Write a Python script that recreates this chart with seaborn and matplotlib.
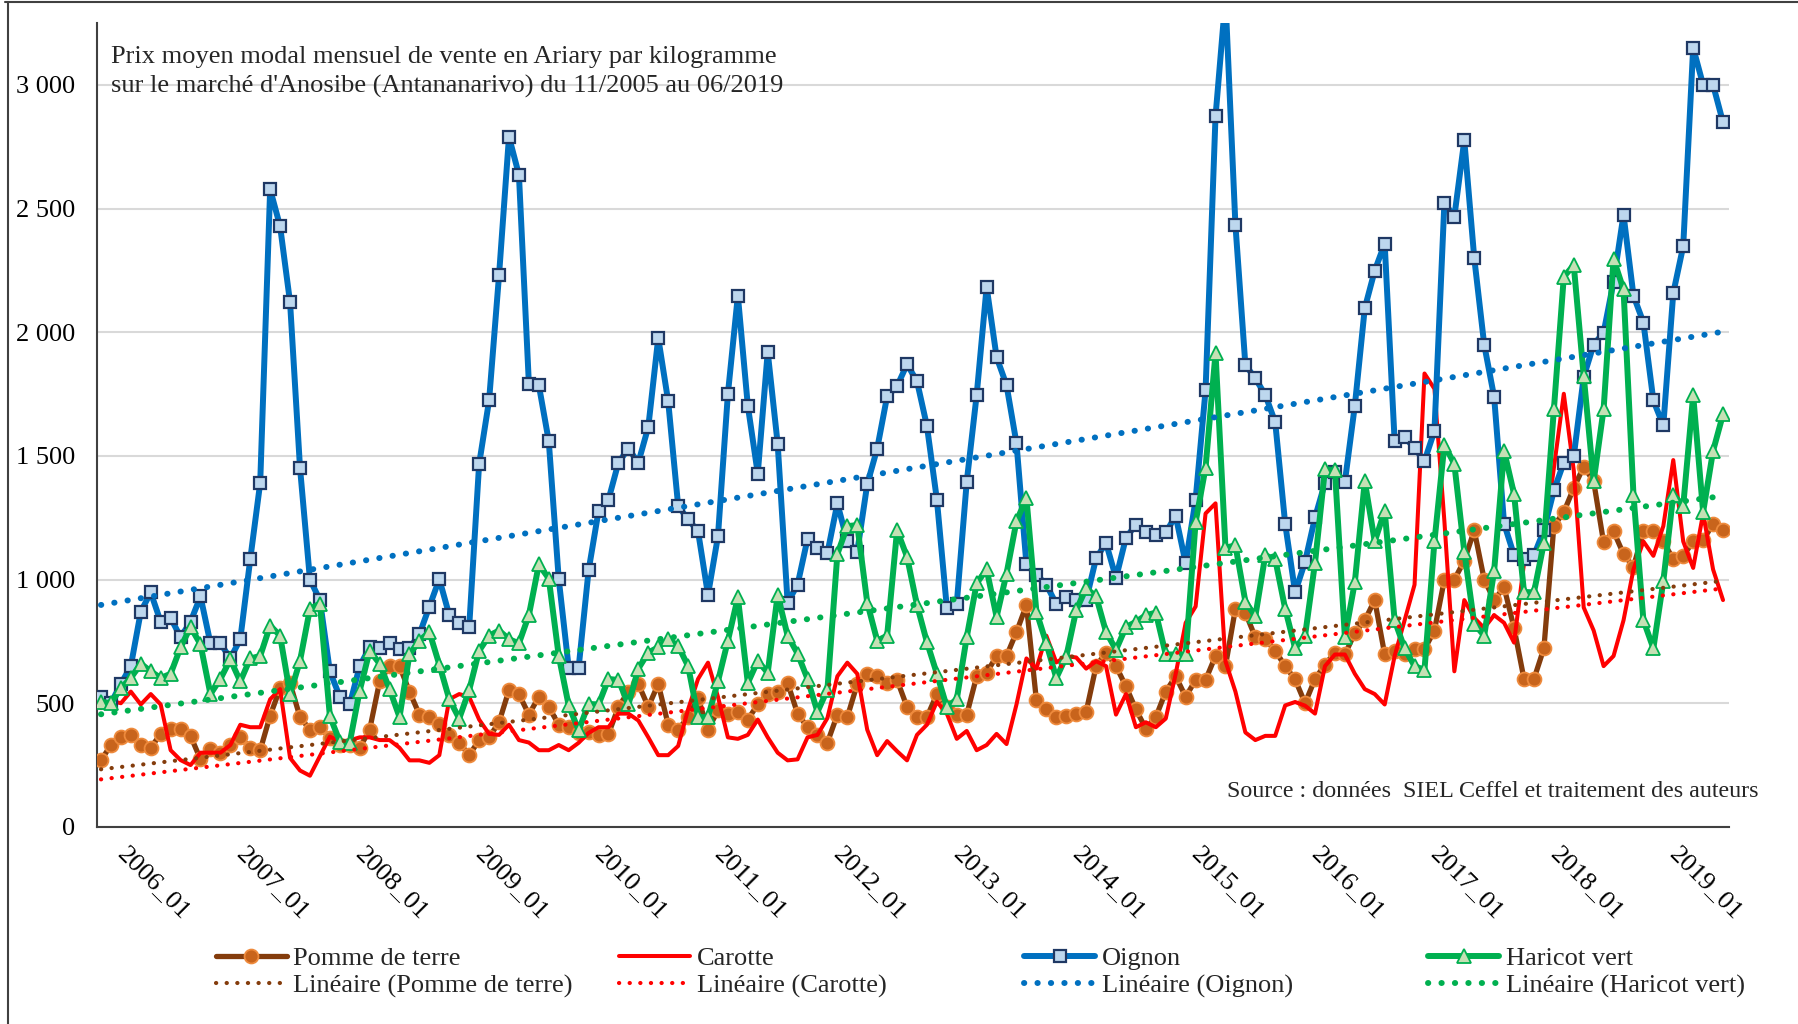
import numpy as np
import pandas as pd
import matplotlib
matplotlib.use("Agg")
import matplotlib.pyplot as plt
from matplotlib.lines import Line2D
import seaborn as sns

# Monthly periods 11/2005 .. 06/2019
months = pd.period_range("2005-11", "2019-06", freq="M")
month_labels = [f"{p.year}_{p.month:02d}" for p in months]
tick_labels = [f"{y}_01" for y in range(2006, 2020)]

# Prix moyen modal mensuel (Ariary / kg)
pomme_de_terre = [
    269, 331, 362, 372, 331, 320, 376, 397, 397, 368, 273, 314, 300, 331, 362, 320, 310, 450, 560, 580, 444, 393, 403, 360, 330, 330,
    320, 393, 588, 650, 650, 547, 454, 444, 417, 372, 341, 290, 351, 362, 423, 553, 537, 454, 526, 485, 413, 403, 380, 382,
    372, 376, 485, 547, 578, 485, 578, 413, 393, 444, 521, 393, 471, 458, 465, 434, 495, 537, 547, 582, 458, 403, 372, 341,
    454, 444, 578, 619, 609, 582, 594, 485, 444, 444, 537, 485, 454, 454, 609, 623, 691, 691, 788, 897, 512, 475, 444, 447,
    458, 465, 650, 705, 650, 568, 475, 397, 444, 547, 609, 526, 594, 594, 691, 650, 882, 866, 767, 759, 712, 650, 596, 500,
    598, 656, 705, 697, 784, 835, 917, 697, 712, 697, 718, 718, 794, 1000, 1000, 1076, 1199, 1000, 917, 969, 804, 598, 598, 722,
    1216, 1273, 1370, 1457, 1397, 1150, 1195, 1103, 1051, 1195, 1195, 1154, 1082, 1096, 1154, 1158, 1226, 1199,
]
carotte = [
    480, 510, 500, 547, 495, 537, 495, 310, 270, 250, 300, 300, 300, 331, 413, 403, 403, 516, 557, 279, 228, 207, 286, 365, 345, 350,
    362, 362, 351, 351, 320, 269, 269, 259, 290, 516, 537, 526, 434, 376, 372, 413, 351, 341, 310, 310, 331, 310, 340, 380,
    403, 403, 458, 458, 430, 362, 290, 290, 327, 475, 598, 664, 526, 362, 356, 372, 434, 362, 300, 269, 273, 362, 372, 440,
    609, 664, 619, 393, 290, 347, 306, 269, 372, 413, 506, 458, 356, 388, 310, 331, 376, 335, 495, 681, 640, 773, 665, 690,
    685, 640, 670, 650, 454, 537, 403, 423, 403, 438, 619, 825, 891, 1267, 1308, 670, 547, 382, 351, 368, 368, 491, 505, 490,
    458, 650, 697, 697, 619, 557, 537, 495, 691, 835, 979, 1833, 1771, 1236, 629, 917, 845, 804, 856, 825, 745, 1065, 1090, 1150,
    1450, 1751, 1442, 887, 794, 650, 691, 835, 1041, 1154, 1096, 1216, 1483, 1154, 1047, 1267, 1041, 917,
]
oignon = [
    526, 500, 578, 650, 870, 948, 829, 845, 767, 829, 932, 742, 742, 681, 759, 1082, 1391, 2578, 2428, 2121, 1452, 1000, 917, 629, 526, 495,
    650, 726, 722, 742, 718, 722, 779, 891, 1002, 856, 825, 808, 1467, 1724, 2230, 2790, 2636, 1792, 1786, 1559, 1002, 644, 644, 1037,
    1277, 1323, 1473, 1529, 1473, 1617, 1977, 1720, 1298, 1243, 1195, 938, 1175, 1751, 2148, 1703, 1428, 1920, 1549, 907, 979, 1164, 1127, 1107,
    1308, 1154, 1113, 1385, 1529, 1741, 1782, 1870, 1802, 1621, 1323, 886, 903, 1395, 1747, 2183, 1899, 1786, 1551, 1061, 1020, 979, 901, 928,
    917, 917, 1086, 1148, 1006, 1169, 1222, 1191, 1179, 1191, 1257, 1066, 1323, 1765, 2872, 3350, 2434, 1868, 1813, 1747, 1636, 1226, 948, 1072,
    1251, 1391, 1436, 1395, 1703, 2097, 2249, 2358, 1559, 1576, 1531, 1479, 1601, 2523, 2467, 2776, 2300, 1950, 1738, 1226, 1098, 1082, 1098, 1199,
    1360, 1473, 1498, 1819, 1950, 1998, 2204, 2475, 2148, 2039, 1724, 1623, 2158, 2348, 3150, 3000, 3000, 2848,
]
haricot_vert = [
    506, 500, 561, 602, 660, 629, 602, 619, 726, 808, 738, 537, 598, 677, 588, 681, 691, 814, 773, 537, 671, 882, 903, 448, 345, 341,
    551, 712, 660, 557, 444, 697, 753, 788, 656, 516, 438, 553, 712, 773, 794, 759, 742, 856, 1061, 1004, 691, 491, 390, 497,
    495, 598, 594, 495, 640, 705, 726, 759, 732, 650, 444, 444, 588, 753, 928, 582, 671, 623, 938, 773, 701, 598, 465, 555,
    1103, 1216, 1220, 907, 753, 773, 1199, 1092, 897, 747, 619, 485, 516, 767, 985, 1041, 849, 1024, 1236, 1329, 870, 742, 602, 688,
    876, 965, 932, 788, 716, 808, 829, 856, 866, 697, 697, 697, 1232, 1452, 1915, 1129, 1138, 911, 851, 1098, 1082, 882, 722, 773,
    1068, 1446, 1442, 767, 989, 1397, 1154, 1277, 835, 722, 650, 635, 1154, 1545, 1467, 1113, 821, 773, 1035, 1520, 1346, 950, 948, 1148,
    1689, 2224, 2271, 1823, 1397, 1689, 2296, 2173, 1343, 835, 722, 993, 1343, 1298, 1745, 1273, 1520, 1668,
]

series_names = ["Pomme de terre", "Carotte", "Oignon", "Haricot vert"]
y_ticks = [0, 500, 1000, 1500, 2000, 2500, 3000]
y_tick_labels = ["0", "500", "1 000", "1 500", "2 000", "2 500", "3 000"]

title_lines = [
    "Prix moyen modal mensuel de vente en Ariary par kilogramme",
    "sur le marché d'Anosibe (Antananarivo) du 11/2005 au 06/2019",
]
source_text = "Source : données  SIEL Ceffel et traitement des auteurs"

df = pd.DataFrame({
    "mois": month_labels,
    "t": np.arange(len(months)),
    "Pomme de terre": pomme_de_terre,
    "Carotte": carotte,
    "Oignon": oignon,
    "Haricot vert": haricot_vert,
})

styles = {
    "Pomme de terre": dict(color="#843C0C", lw=3.8, marker="o", ms=10,
                           mfc="#C8641C", mec="#EE8A3C", mew=1.3),
    "Carotte": dict(color="#FF0000", lw=2.9, marker=None),
    "Oignon": dict(color="#0070C0", lw=4.3, marker="s", ms=8,
                   mfc="#BDD7EE", mec="#1F3864", mew=1.6),
    "Haricot vert": dict(color="#00B050", lw=4.3, marker="^", ms=10.5,
                         mfc="#C5E0B4", mec="#00B050", mew=1.3),
}
trend_style = {
    "Pomme de terre": dict(lw=3.0, ls=(0, (0.05, 2.5))),
    "Carotte": dict(lw=3.0, ls=(0, (0.05, 2.5))),
    "Oignon": dict(lw=4.3, ls=(0, (0.05, 2.2))),
    "Haricot vert": dict(lw=4.3, ls=(0, (0.05, 2.2))),
}

sns.set_theme(style="white")
plt.rcParams["font.family"] = ["Liberation Serif", "DejaVu Serif"]

fig = plt.figure(figsize=(17.98, 10.24), dpi=100)
ax = fig.add_axes([0.05395, 0.19248, 0.90767, 0.78506])

series_handles = {}
trend_handles = {}
for z, name in enumerate(series_names):
    st = styles[name]
    n_before = len(ax.lines)
    sns.lineplot(data=df, x="t", y=name, ax=ax, color=st["color"], lw=st["lw"],
                 marker=st.get("marker"), ms=st.get("ms", 0),
                 markerfacecolor=st.get("mfc", st["color"]),
                 markeredgecolor=st.get("mec", st["color"]),
                 markeredgewidth=st.get("mew", 0),
                 legend=False, zorder=3 + z, sort=False)
    series_handles[name] = ax.lines[n_before]

for name in series_names:
    n_before = len(ax.lines)
    ts = trend_style[name]
    sns.regplot(data=df, x="t", y=name, ax=ax, scatter=False, ci=None, truncate=True,
                color=styles[name]["color"],
                line_kws=dict(lw=ts["lw"], ls=ts["ls"], dash_capstyle="round", zorder=8))
    trend_handles[name] = ax.lines[n_before]

ax.set_xlim(-0.4, 163.6)
ax.set_ylim(0, 3250)
ax.set_xlabel("")
ax.set_ylabel("")

ax.set_yticks(y_ticks)
ax.set_yticklabels(y_tick_labels, fontsize=19)
ax.tick_params(axis="y", length=0, pad=16, colors="black")

xt = [month_labels.index(lbl) for lbl in tick_labels]
ax.set_xticks(xt)
ax.set_xticklabels(tick_labels, fontsize=19, rotation=-45, ha="left", va="center",
                   rotation_mode="anchor")
ax.tick_params(axis="x", length=0, pad=17, colors="black")

ax.yaxis.grid(True, color="#D9D9D9", lw=1.5)
ax.xaxis.grid(False)
ax.set_axisbelow(True)
for side in ["top", "right"]:
    ax.spines[side].set_visible(False)
for side in ["left", "bottom"]:
    ax.spines[side].set_color("#404040")
    ax.spines[side].set_linewidth(1.5)

# Title inside the plotting area
fig.text(0.0617, 0.9446, title_lines[0], fontsize=19, ha="left", va="center")
fig.text(0.0617, 0.9155, title_lines[1], fontsize=19, ha="left", va="center")

fig.text(0.9778, 0.2275, source_text, fontsize=17.3, ha="right", va="center")

# Legend: one column per product
col_x = [0.1199, 0.3444, 0.5695, 0.7942]
for x0, name in zip(col_x, series_names):
    fig.legend([series_handles[name], trend_handles[name]],
               [name, f"Linéaire ({name})"],
               loc="center left", bbox_to_anchor=(x0, 0.0505),
               frameon=False, fontsize=19, handlelength=2.7, handletextpad=0.25,
               borderpad=0, borderaxespad=0, labelspacing=0.12)

# Frame lines along the top and left edges
fig.add_artist(Line2D([0.003, 1.0], [0.998, 0.998], transform=fig.transFigure,
                      color="#404040", lw=1.5))
fig.add_artist(Line2D([0.0045, 0.0045], [0.0, 0.998], transform=fig.transFigure,
                      color="#404040", lw=1.5))

fig.savefig("out.png", dpi=100)
